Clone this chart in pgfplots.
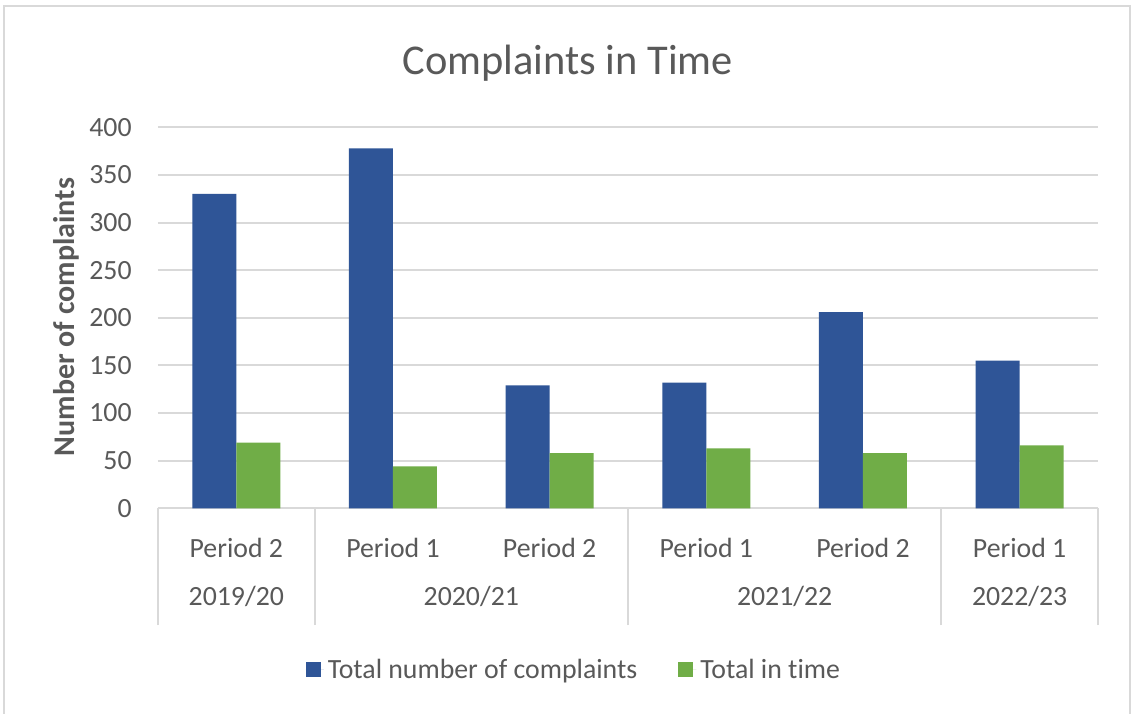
\documentclass[border=0pt]{standalone}
\usepackage{pgfplots}
\pgfplotsset{compat=1.18}
\usepackage{fontspec}
\setmainfont{Carlito}[Ligatures={NoCommon}]
\definecolor{cblue}{HTML}{2F5597}
\definecolor{cgreen}{HTML}{70AD47}
\definecolor{txt}{HTML}{595959}
\definecolor{gridc}{HTML}{D9D9D9}
\newcommand{\sfz}{\fontsize{13.9}{16}\selectfont}
\begin{document}
\begin{tikzpicture}
\useasboundingbox (-79pt,-102.35pt) rectangle (486.5pt,254.15pt);
\fill[white] (-79pt,-102.35pt) rectangle (486.5pt,254.15pt);
\draw[gridc, line width=1pt] (-77pt,-103pt) -- (-77pt,251.15pt) -- (486pt,251.15pt) -- (486pt,-103pt);
\begin{axis}[
  at={(0,0)}, anchor=south west,
  scale only axis, width=470pt, height=190.5pt,
  clip=false,
  ybar=0pt, bar width=22pt,
  xmin=-0.5, xmax=5.5, ymin=0, ymax=400,
  xtick={0,...,5},
  xticklabels={Period 2, Period 1, Period 2, Period 1, Period 2, Period 1},
  ytick={0,50,...,400},
  axis line style={draw=none},
  major tick length=0pt,
  tick align=outside,
  tick pos=left,
  tick style={gridc, line width=1pt},
  ymajorgrids, grid style={gridc, line width=1pt},
  extra x ticks={-0.5,0.5,2.5,4.5,5.5},
  extra x tick labels={},
  extra x tick style={major tick length=58.35pt, grid=none},
  /pgf/number format/assume math mode=true,
  yticklabel style={font=\sfz, text=txt, inner sep=0pt, xshift=-13pt},
  xticklabel style={font=\sfz, text=txt, anchor=base, inner sep=0pt, yshift=-24.6pt},
  title={Complaints in Time},
  title style={at={(rel axis cs:0.436,1)}, anchor=base, yshift=20.65pt, font=\fontsize{21.2}{25}\selectfont, text=txt},
  ylabel={Number of complaints},
  ylabel style={at={(rel axis cs:-0.0973,0.502)}, anchor=center, font=\fontsize{15}{18}\selectfont\bfseries, text=txt},
  legend style={at={(rel axis cs:0.4435,-0.4244)}, anchor=center, draw=none, fill=none,
    font=\sfz, text=txt, legend columns=2,
    /tikz/every even column/.append style={column sep=18.5pt}},
  legend image code/.code={\path (0pt,0pt) -- (9pt,0pt); \fill[#1] (0pt,-3.75pt) rectangle (7.5pt,3.75pt);},
]
\addplot[fill=cblue, draw=none] coordinates {(0,330) (1,378) (2,129) (3,132) (4,206) (5,155)};
\addplot[fill=cgreen, draw=none] coordinates {(0,69) (1,44) (2,58) (3,63) (4,58) (5,66)};
\legend{Total number of complaints, Total in time}
\node[anchor=base, font=\sfz, text=txt, inner sep=0pt, yshift=-48.35pt] at (axis cs:0,0) {2019/20};
\node[anchor=base, font=\sfz, text=txt, inner sep=0pt, yshift=-48.35pt] at (axis cs:1.5,0) {2020/21};
\node[anchor=base, font=\sfz, text=txt, inner sep=0pt, yshift=-48.35pt] at (axis cs:3.5,0) {2021/22};
\node[anchor=base, font=\sfz, text=txt, inner sep=0pt, yshift=-48.35pt] at (axis cs:5,0) {2022/23};
\end{axis}
\end{tikzpicture}
\end{document}
